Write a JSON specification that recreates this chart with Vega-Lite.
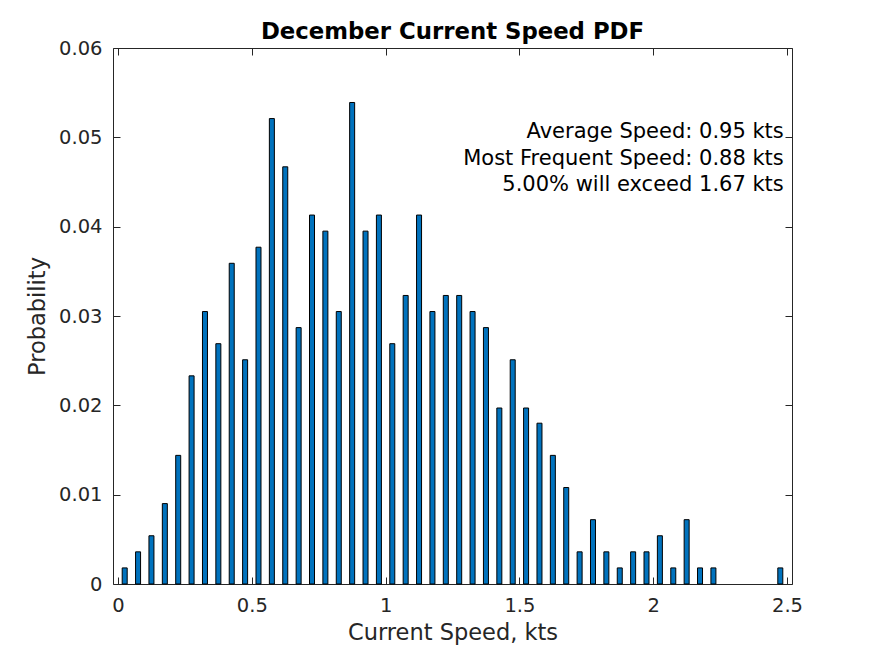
{
  "$schema": "https://vega.github.io/schema/vega-lite/v6.json",
  "width": 679,
  "height": 536,
  "autosize": "none",
  "padding": {"left": 113, "top": 48, "right": 83, "bottom": 72},
  "background": "white",
  "title": {
    "text": "December Current Speed PDF",
    "font": "DejaVu Sans",
    "fontSize": 22.8,
    "fontWeight": "bold",
    "color": "#000000",
    "baseline": "alphabetic",
    "offset": -24,
    "anchor": "middle"
  },
  "config": {
    "view": {"stroke": "#262626", "strokeWidth": 1},
    "axis": {
      "domain": false,
      "grid": false,
      "tickColor": "#262626",
      "tickSize": -7,
      "tickWidth": 1,
      "labelFont": "DejaVu Sans",
      "labelFontSize": 19.5,
      "labelColor": "#262626",
      "titleFont": "DejaVu Sans",
      "titleFontSize": 22.5,
      "titleFontWeight": "normal",
      "titleColor": "#262626"
    }
  },
  "data": {
    "values": [
      {"speed": 0.025, "probability": 0.0018},
      {"speed": 0.075, "probability": 0.0036},
      {"speed": 0.125, "probability": 0.0054},
      {"speed": 0.175, "probability": 0.009},
      {"speed": 0.225, "probability": 0.0144},
      {"speed": 0.275, "probability": 0.0233},
      {"speed": 0.325, "probability": 0.0305},
      {"speed": 0.375, "probability": 0.0269},
      {"speed": 0.425, "probability": 0.0359},
      {"speed": 0.475, "probability": 0.0251},
      {"speed": 0.525, "probability": 0.0377},
      {"speed": 0.575, "probability": 0.0521},
      {"speed": 0.625, "probability": 0.0467},
      {"speed": 0.675, "probability": 0.0287},
      {"speed": 0.725, "probability": 0.0413},
      {"speed": 0.775, "probability": 0.0395},
      {"speed": 0.825, "probability": 0.0305},
      {"speed": 0.875, "probability": 0.0539},
      {"speed": 0.925, "probability": 0.0395},
      {"speed": 0.975, "probability": 0.0413},
      {"speed": 1.025, "probability": 0.0269},
      {"speed": 1.075, "probability": 0.0323},
      {"speed": 1.125, "probability": 0.0413},
      {"speed": 1.175, "probability": 0.0305},
      {"speed": 1.225, "probability": 0.0323},
      {"speed": 1.275, "probability": 0.0323},
      {"speed": 1.325, "probability": 0.0305},
      {"speed": 1.375, "probability": 0.0287},
      {"speed": 1.425, "probability": 0.0197},
      {"speed": 1.475, "probability": 0.0251},
      {"speed": 1.525, "probability": 0.0197},
      {"speed": 1.575, "probability": 0.018},
      {"speed": 1.625, "probability": 0.0144},
      {"speed": 1.675, "probability": 0.0108},
      {"speed": 1.725, "probability": 0.0036},
      {"speed": 1.775, "probability": 0.0072},
      {"speed": 1.825, "probability": 0.0036},
      {"speed": 1.875, "probability": 0.0018},
      {"speed": 1.925, "probability": 0.0036},
      {"speed": 1.975, "probability": 0.0036},
      {"speed": 2.025, "probability": 0.0054},
      {"speed": 2.075, "probability": 0.0018},
      {"speed": 2.125, "probability": 0.0072},
      {"speed": 2.175, "probability": 0.0018},
      {"speed": 2.225, "probability": 0.0018},
      {"speed": 2.475, "probability": 0.0018}
    ]
  },
  "layer": [
    {
      "mark": {"type": "bar", "size": 5, "color": "#0072BD", "stroke": "#000000", "strokeWidth": 1},
      "encoding": {
        "x": {
          "field": "speed",
          "type": "quantitative",
          "scale": {"domain": [0, 2.5], "nice": false, "zero": false},
          "axis": {
            "orient": "bottom",
            "title": "Current Speed, kts",
            "values": [0, 0.5, 1, 1.5, 2, 2.5],
            "format": "~g",
            "labelPadding": 19,
            "titlePadding": 7,
            "labelFlush": false
          }
        },
        "y": {
          "field": "probability",
          "type": "quantitative",
          "scale": {"domain": [0, 0.06], "nice": false},
          "axis": {
            "orient": "left",
            "title": "Probability",
            "values": [0, 0.01, 0.02, 0.03, 0.04, 0.05, 0.06],
            "format": "~g",
            "labelPadding": 18,
            "titlePadding": 9,
            "labelFlush": false
          }
        }
      }
    },
    {
      "data": {"values": [{}]},
      "mark": {
        "type": "text",
        "align": "right",
        "baseline": "alphabetic",
        "font": "DejaVu Sans",
        "fontSize": 21,
        "lineHeight": 26.7,
        "color": "#000000"
      },
      "encoding": {
        "x": {
          "datum": 2.488,
          "type": "quantitative",
          "axis": {
            "orient": "top",
            "title": null,
            "labels": false,
            "values": [0, 0.5, 1, 1.5, 2, 2.5]
          }
        },
        "y": {
          "datum": 0.04993,
          "type": "quantitative",
          "axis": {
            "orient": "right",
            "title": null,
            "labels": false,
            "values": [0, 0.01, 0.02, 0.03, 0.04, 0.05, 0.06]
          }
        },
        "text": {
          "value": [
            "Average Speed: 0.95 kts",
            "Most Frequent Speed: 0.88 kts",
            "5.00% will exceed 1.67 kts"
          ]
        }
      }
    }
  ],
  "resolve": {"axis": {"x": "independent", "y": "independent"}}
}
